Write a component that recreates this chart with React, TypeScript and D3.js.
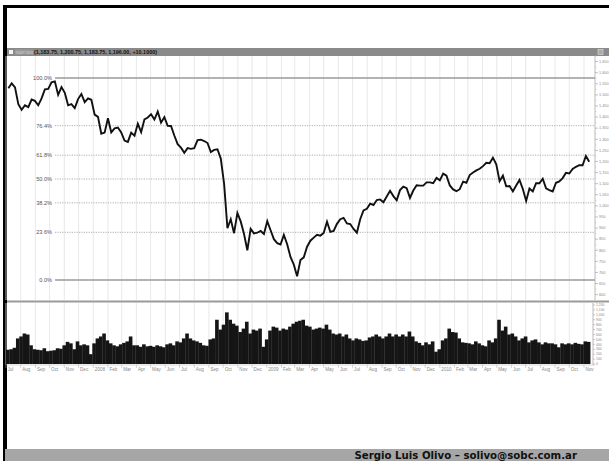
import React, { useEffect, useRef } from 'react';
import * as d3 from 'd3';

// weekly closes (Friday)
const close2007 = [
  1530, 1552, 1534, 1458, 1433, 1453, 1445, 1479, 1473, 1453, 1484, 1525, 1527,
  1557, 1561, 1500, 1535, 1509, 1453, 1458, 1440, 1481, 1504, 1467, 1484, 1478,
];
const close2008 = [
  1411, 1401, 1325, 1330, 1395, 1331, 1349, 1353, 1331, 1294, 1288, 1330, 1316,
  1370, 1332, 1390, 1398, 1413, 1389, 1425, 1375, 1400, 1361, 1360, 1317, 1278,
  1262, 1239, 1260, 1257, 1260, 1296, 1298, 1292, 1283, 1242, 1252, 1255, 1213,
  1099, 899, 940, 877, 968, 930, 873, 800, 896, 876, 879, 887, 873,
];
const close2009 = [
  931, 890, 850, 832, 826, 869, 827, 770, 735, 683, 756, 768, 816,
  843, 857, 870, 866, 878, 929, 883, 887, 919, 940, 946, 921, 918,
  896, 879, 940, 979, 987, 1010, 1004, 1026, 1029, 1016, 1042, 1068, 1044,
  1025, 1071, 1087, 1080, 1036, 1069, 1093, 1091, 1091, 1106, 1106, 1102, 1126, 1115,
];
const close2010 = [
  1145, 1136, 1092, 1074, 1066, 1075, 1109, 1104, 1139, 1150, 1160, 1167,
  1179, 1194, 1192, 1217, 1187, 1111, 1136, 1088, 1089, 1065, 1092, 1117, 1076,
  1022, 1078, 1065, 1102, 1102, 1122, 1079, 1071, 1065, 1104, 1110, 1125, 1149,
  1146, 1166, 1176, 1183, 1183, 1225, 1199,
];

// weekly volume
const volume2007 = [
  290, 300, 330, 520, 560, 620, 600, 380, 300, 290, 280, 320, 260,
  270, 280, 320, 310, 380, 450, 420, 300, 460, 380, 400, 380, 200,
];
const volume2008 = [
  420, 520, 560, 620, 480, 420, 380, 360, 400, 430, 460, 560, 380,
  380, 350, 400, 360, 370, 350, 380, 360, 340, 400, 420, 380, 460,
  440, 520, 620, 520, 480, 460, 430, 380, 370, 500, 520, 900, 700,
  800, 1050, 900, 820, 780, 650, 720, 860, 620, 700, 680, 720, 350,
];
const volume2009 = [
  500, 680, 760, 740, 680, 720, 700, 760, 820, 860, 880, 900, 780,
  760, 700, 720, 740, 720, 800, 700, 620, 600, 620, 560, 600, 520,
  480, 520, 500, 470, 480, 540, 560, 600, 560, 520, 560, 620, 560,
  600, 560, 600, 560, 660, 560, 460, 430, 380, 440, 400, 460, 250, 300,
];
const volume2010 = [
  480, 520, 720, 650, 640, 520, 440, 430, 420, 400, 460, 420,
  380, 360, 480, 440, 520, 900, 680, 760, 600, 620, 560, 480, 520,
  560, 440, 480, 500, 440, 400, 440, 420, 420, 400, 340, 420, 400,
  420, 400, 430, 410, 400, 460, 450,
];

const swing = [666, 1576]; // low, high of the move
const fibLevels = [1, 0.764, 0.618, 0.5, 0.382, 0.236, 0];
const fibLabels = ['100.0%', '76.4%', '61.8%', '50.0%', '38.2%', '23.6%', '0.0%'];
const priceTicks = [
  600, 650, 700, 750, 800, 850, 900, 950, 1000, 1050, 1100, 1150,
  1200, 1250, 1300, 1350, 1400, 1450, 1500, 1550, 1600, 1650,
];
const volumeTicks = [0, 100, 200, 300, 400, 500, 600, 700, 800, 900, 1000, 1100, 1200];
const symbol = 'S&P 500';
const headerText = '(1,183.75, 1,200.75, 1,183.75, 1,196.00, +10.1000)';
const footerText = 'Sergio Luis Olivo \u2013 solivo@sobc.com.ar';

const App: React.FC = () => {
  const svgRef = useRef<SVGSVGElement>(null);

  useEffect(() => {
    if (!svgRef.current) return;
    const svg = d3.select(svgRef.current);
    svg.selectAll('*').remove();

    const closes = [...close2007, ...close2008, ...close2009, ...close2010];
    const volumes = [...volume2007, ...volume2008, ...volume2009, ...volume2010];
    const weeks = d3.timeFriday.range(new Date(2007, 6, 6), new Date(2010, 10, 13));
    const data = weeks.map((date, i) => ({ date, close: closes[i], volume: volumes[i] }));

    const left = 7;
    const right = 595;
    const priceTop = 56;
    const priceBottom = 300;
    const volTop = 303;
    const volBottom = 365;
    const font = '"Liberation Sans", Arial, sans-serif';

    const x = d3.scaleTime()
      .domain([new Date(2007, 6, 1), new Date(2010, 10, 20)])
      .range([6, 593]);
    const y = d3.scaleLinear().domain(swing).range([280, 78]);
    const yVol = d3.scaleLinear().domain([0, 1200]).range([364, 305]);

    // frame
    svg.append('rect').attr('width', 609).attr('height', 461).attr('fill', '#fff');
    svg.append('rect').attr('x', 3).attr('y', 5).attr('width', 606).attr('height', 3).attr('fill', '#000');
    svg.append('rect').attr('x', 3).attr('y', 5).attr('width', 4).attr('height', 456).attr('fill', '#000');

    // header bar
    svg.append('rect').attr('x', left).attr('y', 48).attr('width', 609 - left).attr('height', 8).attr('fill', '#8a8a8a');
    svg.append('rect').attr('x', 9).attr('y', 50).attr('width', 4).attr('height', 4).attr('fill', '#f4f4f4');
    svg.append('rect').attr('x', 15).attr('y', 49.5).attr('width', 18).attr('height', 5).attr('fill', '#9c9c9c');
    svg.append('text').attr('x', 16).attr('y', 53.8).attr('font-size', 4.4)
      .attr('font-family', font).attr('fill', '#c8c8c8').text(symbol);
    svg.append('text').attr('x', 34).attr('y', 54).attr('font-size', 5).attr('font-weight', 'bold')
      .attr('font-family', font).attr('fill', '#111')
      .attr('textLength', 123).attr('lengthAdjust', 'spacingAndGlyphs').text(headerText);
    svg.append('rect').attr('x', 598).attr('y', 49.5).attr('width', 5).attr('height', 5)
      .attr('fill', '#aaa').attr('stroke', '#ddd').attr('stroke-width', 0.6);

    // month grid
    const months = d3.timeMonth.range(new Date(2007, 6, 1), new Date(2010, 10, 2));
    const grid = svg.append('g');
    months.forEach(m => {
      grid.append('line').attr('x1', x(m)).attr('x2', x(m)).attr('y1', priceTop).attr('y2', priceBottom)
        .attr('stroke', '#e2e2e2').attr('stroke-width', 0.8);
      grid.append('line').attr('x1', x(m)).attr('x2', x(m)).attr('y1', volTop).attr('y2', volBottom)
        .attr('stroke', '#e2e2e2').attr('stroke-width', 0.8);
    });

    // fibonacci levels
    const [lo, hi] = swing;
    fibLevels.forEach((f, i) => {
      const v = lo + (hi - lo) * f;
      const solid = f === 1 || f === 0;
      svg.append('line').attr('x1', 55).attr('x2', right).attr('y1', y(v)).attr('y2', y(v))
        .attr('stroke', solid ? '#9a9a9a' : '#b0b0b0')
        .attr('stroke-width', solid ? 1.3 : 1)
        .attr('stroke-dasharray', solid ? null : '1.2,1.2');
      svg.append('text').attr('x', 52).attr('y', y(v)).attr('dy', '0.35em')
        .attr('text-anchor', 'end').attr('font-size', 5.6).attr('font-family', font)
        .attr('fill', '#555').text(fibLabels[i]);
    });

    // price line
    const line = d3.line<{ date: Date; close: number }>()
      .x(d => x(d.date))
      .y(d => y(d.close));
    svg.append('path').datum(data).attr('d', line).attr('fill', 'none')
      .attr('stroke', '#111').attr('stroke-width', 1.9).attr('stroke-linejoin', 'miter');

    // right price axis
    svg.append('line').attr('x1', right).attr('x2', right).attr('y1', priceTop).attr('y2', priceBottom)
      .attr('stroke', '#aaa').attr('stroke-width', 0.8);
    priceTicks.forEach(t => {
      svg.append('line').attr('x1', right).attr('x2', right + 3).attr('y1', y(t)).attr('y2', y(t))
        .attr('stroke', '#999').attr('stroke-width', 0.6);
      svg.append('line').attr('x1', right).attr('x2', right + 1.5).attr('y1', y(t + 25)).attr('y2', y(t + 25))
        .attr('stroke', '#bbb').attr('stroke-width', 0.5);
      svg.append('text').attr('x', right + 4).attr('y', y(t)).attr('dy', '0.35em')
        .attr('font-size', 3.8).attr('font-family', font).attr('fill', '#888').text(d3.format(',')(t));
    });

    // pane separator
    svg.append('line').attr('x1', left).attr('x2', 609).attr('y1', 301.5).attr('y2', 301.5)
      .attr('stroke', '#9a9a9a').attr('stroke-width', 2);

    // volume bars
    svg.append('g').selectAll('rect').data(data).enter().append('rect')
      .attr('x', d => x(d3.timeDay.offset(d.date, -5)))
      .attr('width', d => x(d3.timeDay.offset(d.date, 2)) - x(d3.timeDay.offset(d.date, -5)) + 0.3)
      .attr('y', d => yVol(d.volume))
      .attr('height', d => yVol(0) - yVol(d.volume))
      .attr('fill', '#151515');

    // volume axis
    svg.append('line').attr('x1', 593).attr('x2', 593).attr('y1', volTop).attr('y2', volBottom)
      .attr('stroke', '#aaa').attr('stroke-width', 0.8);
    volumeTicks.forEach(t => {
      svg.append('line').attr('x1', 593).attr('x2', 595).attr('y1', yVol(t)).attr('y2', yVol(t))
        .attr('stroke', '#999').attr('stroke-width', 0.5);
      svg.append('text').attr('x', 596).attr('y', yVol(t)).attr('dy', '0.35em')
        .attr('font-size', 3.4).attr('font-family', font).attr('fill', '#888').text(d3.format(',')(t));
    });

    // month axis
    svg.append('line').attr('x1', left).attr('x2', right).attr('y1', volBottom).attr('y2', volBottom)
      .attr('stroke', '#bbb').attr('stroke-width', 0.6);
    months.forEach(m => {
      svg.append('line').attr('x1', x(m)).attr('x2', x(m)).attr('y1', volBottom).attr('y2', volBottom + 3)
        .attr('stroke', '#aaa').attr('stroke-width', 0.5);
      svg.append('text').attr('x', x(m) + 1.5).attr('y', volBottom + 5.8)
        .attr('font-size', 4.6).attr('font-family', font).attr('fill', '#888')
        .text(m.getMonth() === 0 ? d3.timeFormat('%Y')(m) : d3.timeFormat('%b')(m));
    });

    // footer
    svg.append('rect').attr('x', 5).attr('y', 449).attr('width', 604).attr('height', 12).attr('fill', '#a6a6a6');
    svg.append('text').attr('x', 577).attr('y', 458.8).attr('text-anchor', 'end')
      .attr('font-size', 10.2).attr('font-weight', 'bold').attr('font-family', '"DejaVu Sans", Verdana, sans-serif')
      .attr('fill', '#111').text(footerText);
  }, []);

  return (
    <svg
      ref={svgRef}
      width={609}
      height={461}
      style={{ position: 'absolute', left: 0, top: 0 }}
    />
  );
};

export default App;
